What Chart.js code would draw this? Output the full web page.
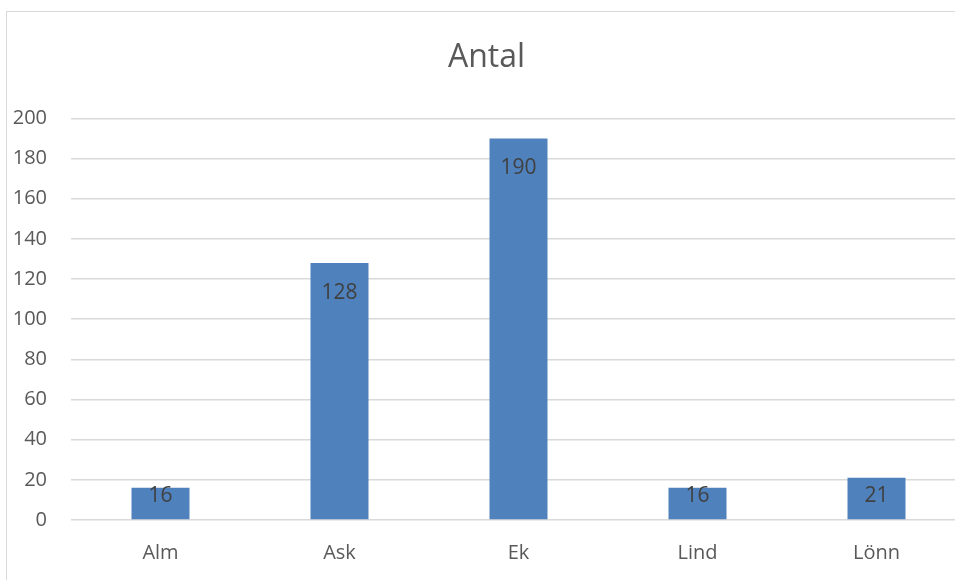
<!DOCTYPE html>
<html>
<head>
<meta charset="utf-8">
<script src="https://cdn.jsdelivr.net/npm/chart.js@4"></script>
<style>
  html, body { margin: 0; padding: 0; background: #fff; overflow: hidden; }
  #frame {
    position: absolute; left: 6px; top: 11px;
    width: 990px; height: 600px;
    border: 1px solid #d9d9d9;
  }
  #wrap { position: absolute; left: 0; top: 0; width: 980px; height: 600px; }
</style>
</head>
<body>
<div id="frame"><div id="wrap"><canvas id="chart"></canvas></div></div>
<script>
const categories = ["Alm", "Ask", "Ek", "Lind", "Lönn"];
const antal = [16, 128, 190, 16, 21];
const yTicks = [0, 20, 40, 60, 80, 100, 120, 140, 160, 180, 200];

const FONT = "'Open Sans', sans-serif";
const TEXT = "#595959";

// value labels drawn just inside the top of each bar
const barLabels = {
  id: "barLabels",
  afterDatasetsDraw(chart) {
    const { ctx } = chart;
    const meta = chart.getDatasetMeta(0);
    ctx.save();
    ctx.font = "21px " + FONT;
    ctx.fillStyle = "#404040";
    ctx.textAlign = "center";
    ctx.textBaseline = "middle";
    meta.data.forEach((bar, i) => {
      const y = Math.min(bar.y + 30, bar.base - 23);
      ctx.fillText(String(antal[i]), bar.x, y);
    });
    ctx.restore();
  }
};

new Chart(document.getElementById("chart"), {
  type: "bar",
  data: {
    labels: categories,
    datasets: [{
      label: "Antal",
      data: antal,
      backgroundColor: "#4f81bd",
      categoryPercentage: 1,
      barPercentage: 0.324
    }]
  },
  options: {
    responsive: true,
    maintainAspectRatio: false,
    animation: false,
    layout: { padding: { left: 0, right: 21, top: 0, bottom: 0 } },
    plugins: {
      legend: { display: false },
      tooltip: { enabled: false },
      title: {
        display: true,
        text: "Antal",
        color: TEXT,
        font: { family: FONT, size: 32, weight: "normal", lineHeight: 1.2 },
        padding: { top: 27, bottom: 41 }
      }
    },
    scales: {
      x: {
        grid: { display: false, drawTicks: false },
        border: { display: false },
        ticks: { color: TEXT, font: { family: FONT, size: 20 }, padding: 21 },
        afterFit: (s) => { s.height = 92; }
      },
      y: {
        min: 0,
        max: 200,
        afterBuildTicks: (s) => { s.ticks = yTicks.map((v) => ({ value: v })); },
        grid: { color: "#d9d9d9", lineWidth: 1.5, drawTicks: false },
        border: { display: false },
        ticks: { color: TEXT, font: { family: FONT, size: 20 }, padding: 24 },
        afterFit: (s) => { s.width = 64; }
      }
    }
  },
  plugins: [barLabels]
});
</script>
</body>
</html>
